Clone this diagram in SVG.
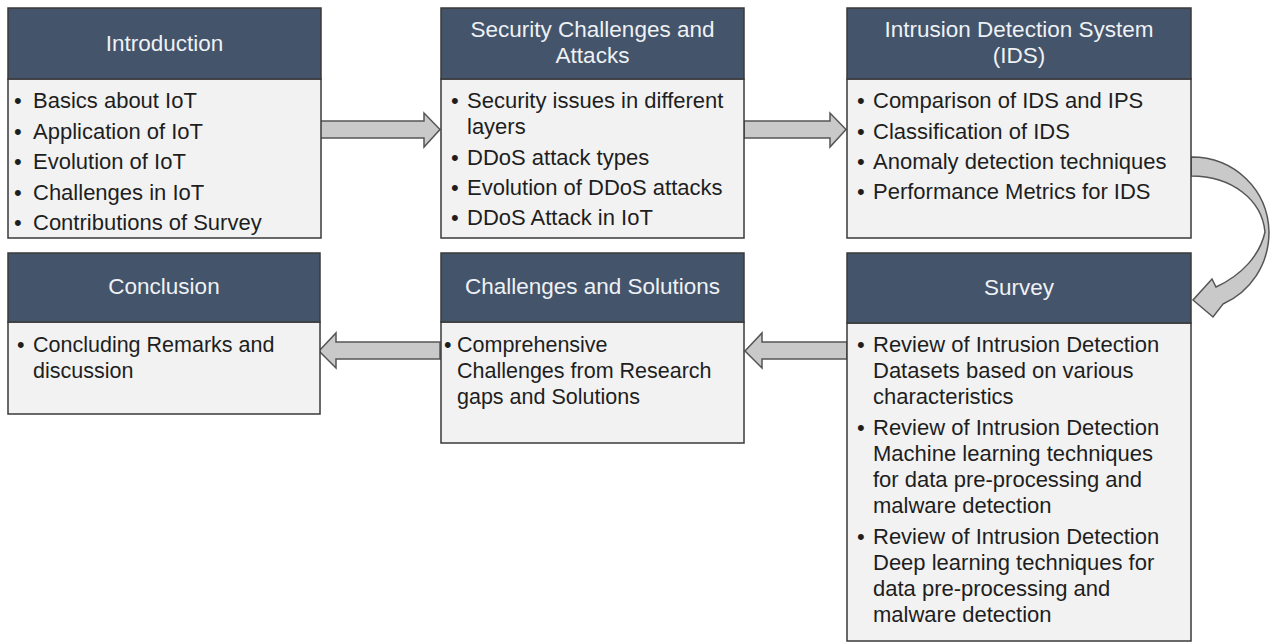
<svg xmlns="http://www.w3.org/2000/svg" width="1270" height="643" viewBox="0 0 1270 643">
<style>
.bg{fill:#ffffff}
.hd{fill:#44546a;stroke:#3a3a3a;stroke-width:1.5}
.bd{fill:#f2f2f2;stroke:#3a3a3a;stroke-width:1.5}
.ht{font-family:"Liberation Sans",Arial,sans-serif;font-size:22.5px;fill:#eef1f5;text-anchor:middle}
.tx{font-family:"Liberation Sans",Arial,sans-serif;font-size:22px;fill:#1e1e1e}
.tc{font-family:"Liberation Sans",Arial,sans-serif;font-size:21.5px;fill:#1e1e1e}
.ar{fill:#c9c9c9;stroke:#555555;stroke-width:1.5;stroke-linejoin:miter}
</style>
<rect class="bg" x="0" y="0" width="1270" height="643"/>

<g id="connectors">
  <path class="ar" d="M320,121 L424,121 L424,113 L440,129.5 L424,147 L424,138 L320,138 Z"/>
  <path class="ar" d="M744,121 L830,121 L830,113 L846,129.5 L830,147 L830,138 L744,138 Z"/>
  <path class="ar" d="M1191,157 C1235,157 1268,190 1269,232 C1269,265 1250,292 1223,304 L1213,317 L1193,300 L1212,279 L1216,287 C1242,275 1260,255 1265,232 C1262,200 1232,176 1191,176 Z"/>
  <path class="ar" d="M847,342 L762,342 L762,333 L745,351 L762,368 L762,359 L847,359 Z"/>
  <path class="ar" d="M440,342 L336,342 L336,333 L319,351 L336,368 L336,359 L440,359 Z"/>
</g>

<g id="introduction">
  <rect class="bd" x="8" y="79" width="313" height="159"/>
  <rect class="hd" x="8" y="8" width="313" height="71"/>
  <text class="ht" x="164.5" y="51">Introduction</text>
  <text class="tx" x="14" y="108">•</text><text class="tx" x="33" y="108">Basics about IoT</text>
  <text class="tx" x="14" y="139">•</text><text class="tx" x="33" y="139">Application of IoT</text>
  <text class="tx" x="14" y="169">•</text><text class="tx" x="33" y="169">Evolution of IoT</text>
  <text class="tx" x="14" y="200">•</text><text class="tx" x="33" y="200">Challenges in IoT</text>
  <text class="tx" x="14" y="230">•</text><text class="tx" x="33" y="230">Contributions of Survey</text>
</g>

<g id="security">
  <rect class="bd" x="441" y="79" width="303" height="159"/>
  <rect class="hd" x="441" y="8" width="303" height="71"/>
  <text class="ht" x="592.5" y="37">Security Challenges and</text>
  <text class="ht" x="592.5" y="63">Attacks</text>
  <text class="tx" x="451" y="108">•</text><text class="tx" x="467" y="108">Security issues in different</text>
  <text class="tx" x="467" y="134">layers</text>
  <text class="tx" x="451" y="165">•</text><text class="tx" x="467" y="165">DDoS attack types</text>
  <text class="tx" x="451" y="195">•</text><text class="tx" x="467" y="195">Evolution of DDoS attacks</text>
  <text class="tx" x="451" y="225">•</text><text class="tx" x="467" y="225">DDoS Attack in IoT</text>
</g>

<g id="ids">
  <rect class="bd" x="847" y="79" width="344" height="159"/>
  <rect class="hd" x="847" y="8" width="344" height="71"/>
  <text class="ht" x="1019" y="37">Intrusion Detection System</text>
  <text class="ht" x="1019" y="63">(IDS)</text>
  <text class="tx" x="857" y="108">•</text><text class="tx" x="873" y="108">Comparison of IDS and IPS</text>
  <text class="tx" x="857" y="139">•</text><text class="tx" x="873" y="139">Classification of IDS</text>
  <text class="tx" x="857" y="169">•</text><text class="tx" x="873" y="169">Anomaly detection  techniques</text>
  <text class="tx" x="857" y="199">•</text><text class="tx" x="873" y="199">Performance Metrics for IDS</text>
</g>

<g id="survey">
  <rect class="bd" x="847" y="323" width="344" height="318"/>
  <rect class="hd" x="847" y="253" width="344" height="70"/>
  <text class="ht" x="1019" y="295">Survey</text>
  <text class="tx" x="857" y="352">•</text><text class="tx" x="873" y="352">Review of Intrusion Detection</text>
  <text class="tx" x="873" y="378">Datasets based on various</text>
  <text class="tx" x="873" y="404">characteristics</text>
  <text class="tx" x="857" y="435">•</text><text class="tx" x="873" y="435">Review of Intrusion Detection</text>
  <text class="tx" x="873" y="461">Machine learning techniques</text>
  <text class="tx" x="873" y="487">for data pre-processing and</text>
  <text class="tx" x="873" y="513">malware detection</text>
  <text class="tx" x="857" y="544">•</text><text class="tx" x="873" y="544">Review of Intrusion Detection</text>
  <text class="tx" x="873" y="570">Deep learning techniques for</text>
  <text class="tx" x="873" y="596">data pre-processing and</text>
  <text class="tx" x="873" y="622">malware detection</text>
</g>

<g id="challenges">
  <rect class="bd" x="441" y="322" width="303" height="121"/>
  <rect class="hd" x="441" y="253" width="303" height="69"/>
  <text class="ht" x="592.5" y="294">Challenges and Solutions</text>
  <text class="tc" x="444" y="352">•</text><text class="tc" x="457" y="352">Comprehensive</text>
  <text class="tc" x="457" y="378">Challenges from Research</text>
  <text class="tc" x="457" y="404">gaps and Solutions</text>
</g>

<g id="conclusion">
  <rect class="bd" x="8" y="322" width="312" height="92"/>
  <rect class="hd" x="8" y="253" width="312" height="69"/>
  <text class="ht" x="164" y="294">Conclusion</text>
  <text class="tc" x="17" y="352">•</text><text class="tc" x="33" y="352">Concluding Remarks and</text>
  <text class="tc" x="33" y="378">discussion</text>
</g>
</svg>
